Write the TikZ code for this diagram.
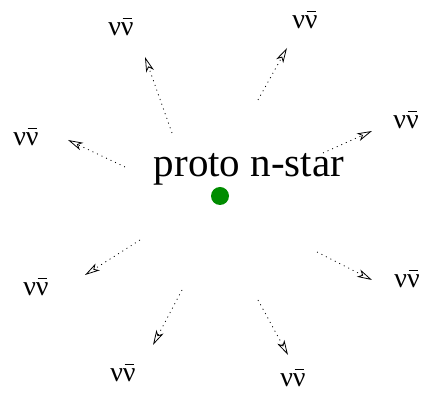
\documentclass[tikz,border=0pt]{standalone}
\usepackage{fontspec}
\setmainfont{Liberation Serif}
\usepackage{tikz}
\usetikzlibrary{arrows.meta}

\definecolor{stargreen}{RGB}{0,140,0}
\newcommand\nubar{\leavevmode\ooalign{ν\cr\hidewidth\raisebox{0.57em}{\rule{0.34em}{0.045em}}\hidewidth\cr}}

\tikzset{
  nulabel/.style={inner sep=0pt, font=\fontsize{28}{28}\selectfont},
  flow/.style={line width=0.8pt, dash pattern=on 1pt off 4pt,
    -{Stealth[open, length=15pt, width=8pt, inset=4pt]}}
}

\begin{document}
\begin{tikzpicture}[x=1pt,y=1pt]
  \useasboundingbox (0,0) rectangle (423,393);
  % the star
  \node[anchor=base, font=\fontsize{41}{41}\selectfont] (title) at (249,216) {proto n-star};
  \fill[stargreen] (220,197) circle (9) coordinate (star);
  % neutrino labels
  \node[nulabel] (nuA) at (121,364) {ν\nubar};
  \node[nulabel] (nuB) at (305,371) {ν\nubar};
  \node[nulabel] (nuC) at (26,254)  {ν\nubar};
  \node[nulabel] (nuD) at (406,271) {ν\nubar};
  \node[nulabel] (nuE) at (36,104)  {ν\nubar};
  \node[nulabel] (nuF) at (407,112) {ν\nubar};
  \node[nulabel] (nuG) at (123,18)  {ν\nubar};
  \node[nulabel] (nuH) at (293,13)  {ν\nubar};
  % arrow ends
  \coordinate (sA) at (172,260); \coordinate (tA) at (145,336);
  \coordinate (sB) at (258,293); \coordinate (tB) at (287,345);
  \coordinate (sC) at (125,226); \coordinate (tC) at (68,253);
  \coordinate (sD) at (323,240); \coordinate (tD) at (372,262);
  \coordinate (sE) at (140,153); \coordinate (tE) at (85,118);
  \coordinate (sF) at (317,141); \coordinate (tF) at (372,113);
  \coordinate (sG) at (182,103); \coordinate (tG) at (153,48);
  \coordinate (sH) at (258,93);  \coordinate (tH) at (288,38);
  % outgoing flux
  \draw[flow] (sA) -- (tA);
  \draw[flow] (sB) -- (tB);
  \draw[flow] (sC) -- (tC);
  \draw[flow] (sD) -- (tD);
  \draw[flow] (sE) -- (tE);
  \draw[flow] (sF) -- (tF);
  \draw[flow] (sG) -- (tG);
  \draw[flow] (sH) -- (tH);
\end{tikzpicture}
\end{document}
